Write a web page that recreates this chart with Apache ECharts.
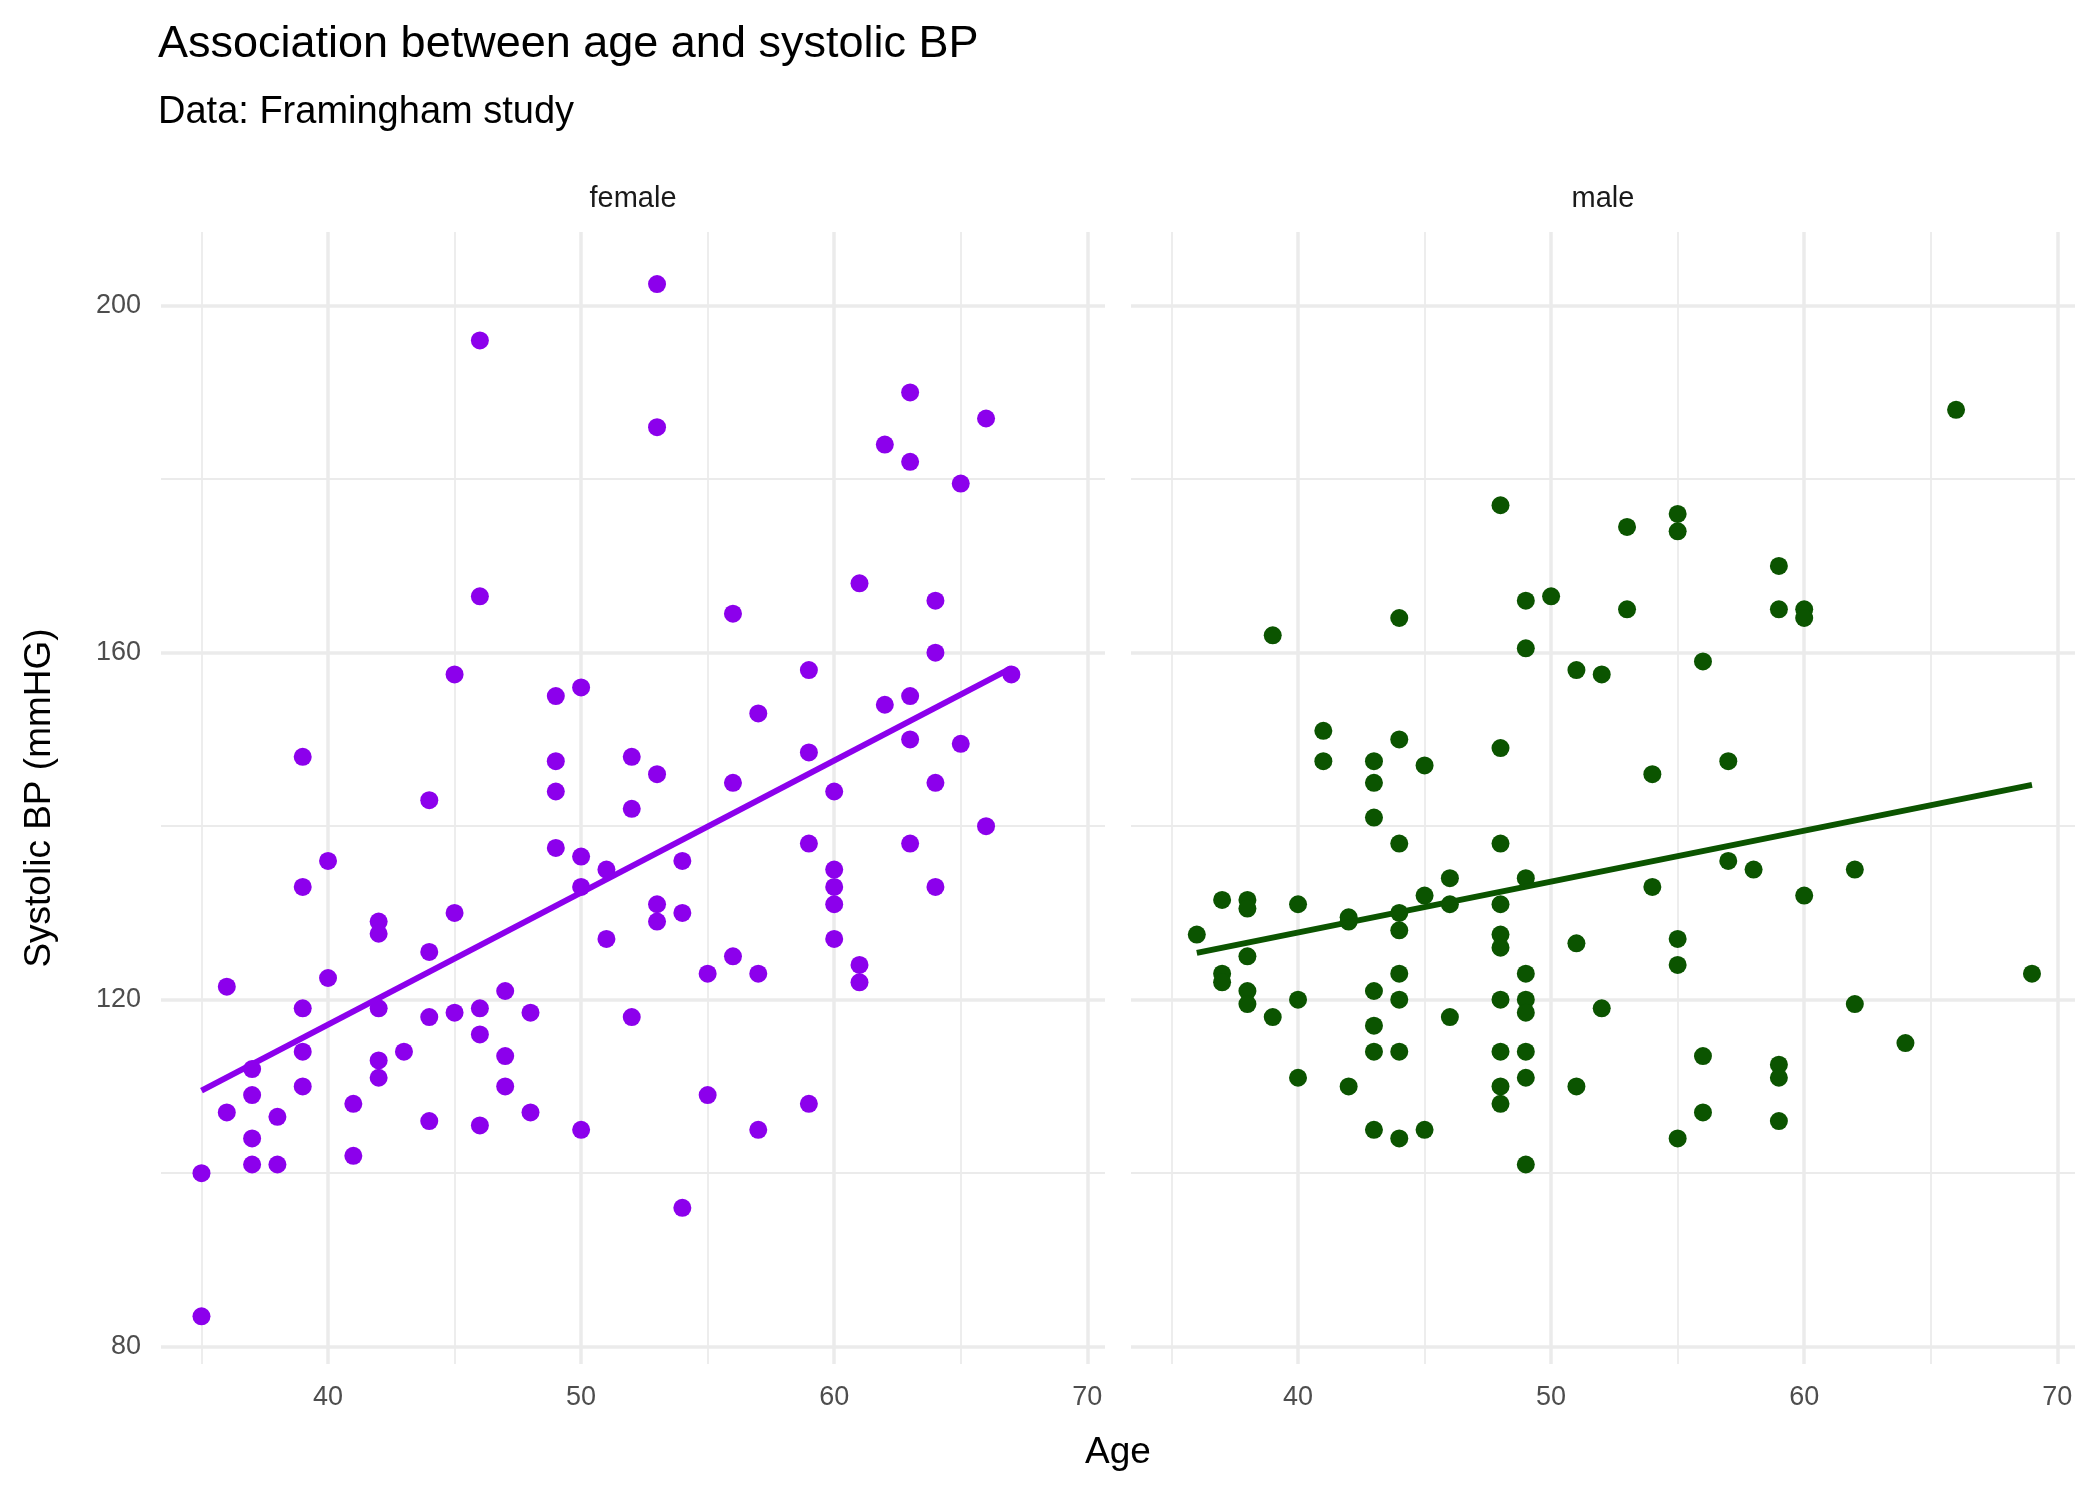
<!DOCTYPE html>
<html><head><meta charset="utf-8">
<script src="https://cdn.jsdelivr.net/npm/echarts@6/dist/echarts.min.js"></script>
<style>html,body{margin:0;background:#fff}#c{width:2100px;height:1500px}</style>
</head><body><div id="c"></div>
<script>
const panels = ['female','male'];
const femaleAge = [35,35,36,36,37,37,37,37,38,38,39,39,39,39,39,40,40,41,41,42,42,42,42,42,43,44,44,44,44,45,45,45,46,46,46,46,46,47,47,47,48,48,49,49,49,49,50,50,50,50,51,51,52,52,52,53,53,53,53,53,54,54,54,55,55,56,56,56,57,57,57,59,59,59,59,60,60,60,60,60,61,61,61,62,62,63,63,63,63,63,64,64,64,64,65,65,66,66,67];
const femaleBP = [100,83.5,107,121.5,112,109,104,101,106.5,101,148,133,119,114,110,136,122.5,108,102,129,127.6,119,113,111,114,143,125.5,118,106,157.5,130,118.5,196,166.5,119,116,105.5,121,113.5,110,118.5,107,155,147.5,144,137.5,156,136.5,133,105,135,127,148,142,118,202.5,186,146,131,129,136,130,96,123,109,164.5,145,125,153,123,105,158,148.5,138,108,144,135,133,131,127,168,124,122,184,154,190,182,155,150,138,166,160,145,133,149.5,179.5,187,140,157.5];
const maleAge = [36,37,37,37,38,38,38,38,38,39,39,40,40,40,41,41,42,42,42,43,43,43,43,43,43,43,44,44,44,44,44,44,44,44,44,45,45,45,46,46,46,48,48,48,48,48,48,48,48,48,48,49,49,49,49,49,49,49,49,49,50,51,51,51,52,52,53,53,54,54,55,55,55,55,55,56,56,56,57,57,58,59,59,59,59,59,60,60,60,62,62,64,66,69];
const maleBP = [127.5,131.5,123,122,131.5,130.5,125,121,119.5,162,118,131,120,111,151,147.5,129.5,129,110,147.5,145,141,121,117,114,105,164,150,138,130,128,123,120,114,104,147,132,105,134,131,118,177,149,138,131,127.5,126,120,114,110,108,166,160.5,134,123,120,118.5,114,111,101,166.5,158,126.5,110,157.5,119,174.5,165,146,133,176,174,127,124,104,159,113.5,107,147.5,136,135,170,165,112.5,111,106,165,164,132,135,119.5,115,188,123];
const xTicks = [40,50,60,70];
const xMinor = [35,45,55,65];
const yTicks = [80,120,160,200];
const yMinor = [100,140,180];
const colors = ['#8c00ec','#0b5400'];

function fit(x,y){const n=x.length;let sx=0,sy=0,sxx=0,sxy=0;for(let i=0;i<n;i++){sx+=x[i];sy+=y[i];sxx+=x[i]*x[i];sxy+=x[i]*y[i];}
 const b=(n*sxy-sx*sy)/(n*sxx-sx*sx),a=(sy-b*sx)/n;const lo=Math.min(...x),hi=Math.max(...x);return [[lo,a+b*lo],[hi,a+b*hi]];}

const data=[[femaleAge,femaleBP],[maleAge,maleBP]];
const grids=[{left:161,width:944,top:232,height:1132},{left:1131,width:944,top:232,height:1132}];
const lab={fontFamily:'Liberation Sans',fontSize:27,color:'#4d4d4d'};
const xAxis=[],yAxis=[],series=[];
for(let i=0;i<2;i++){
 xAxis.push({gridIndex:i,type:'value',min:33.4,max:70.7,axisLine:{show:false},axisTick:{show:false},splitLine:{show:false},
  axisLabel:Object.assign({customValues:xTicks,margin:20},lab)});
 yAxis.push({gridIndex:i,type:'value',min:78,max:208.5,axisLine:{show:false},axisTick:{show:false},splitLine:{show:false},
  axisLabel:Object.assign({customValues:yTicks,show:i===0,margin:20},lab)});
 const ml=[];
 xTicks.forEach(v=>ml.push({xAxis:v,lineStyle:{width:3.5}}));
 xMinor.forEach(v=>ml.push({xAxis:v,lineStyle:{width:1.8}}));
 yTicks.forEach(v=>ml.push({yAxis:v,lineStyle:{width:3.5}}));
 yMinor.forEach(v=>ml.push({yAxis:v,lineStyle:{width:1.8}}));
 series.push({type:'line',xAxisIndex:i,yAxisIndex:i,data:[],zlevel:0,z:0,silent:true,
  markLine:{silent:true,symbol:'none',label:{show:false},lineStyle:{color:'#ebebeb',type:'solid'},animation:false,data:ml}});
 series.push({type:'scatter',xAxisIndex:i,yAxisIndex:i,zlevel:1,z:3,symbolSize:18,itemStyle:{color:colors[i],opacity:1},
  data:data[i][0].map((a,k)=>[a,data[i][1][k]])});
 series.push({type:'line',xAxisIndex:i,yAxisIndex:i,zlevel:1,z:4,symbol:'none',lineStyle:{color:colors[i],width:6},data:fit(data[i][0],data[i][1])});
}
const chart=echarts.init(document.getElementById('c'));
chart.setOption({animation:false,backgroundColor:'#fff',grid:grids,xAxis,yAxis,series,
 graphic:[
  {type:'text',left:158,top:22,style:{text:'Association between age and systolic BP',font:'45px Liberation Sans',fill:'#000'}},
  {type:'text',left:158,top:94,style:{text:'Data: Framingham study',font:'38px Liberation Sans',fill:'#000'}},
  {type:'text',x:633,y:199,style:{text:'female',font:'29px Liberation Sans',fill:'#1a1a1a',align:'center',verticalAlign:'middle'}},
  {type:'text',x:1603,y:199,style:{text:'male',font:'29px Liberation Sans',fill:'#1a1a1a',align:'center',verticalAlign:'middle'}},
  {type:'text',x:1118,y:1453,style:{text:'Age',font:'37px Liberation Sans',fill:'#000',align:'center',verticalAlign:'middle'}},
  {type:'text',x:40,y:798,rotation:Math.PI/2,style:{text:'Systolic BP (mmHG)',font:'37px Liberation Sans',fill:'#000',align:'center',verticalAlign:'middle'}}
 ]});
</script></body></html>
